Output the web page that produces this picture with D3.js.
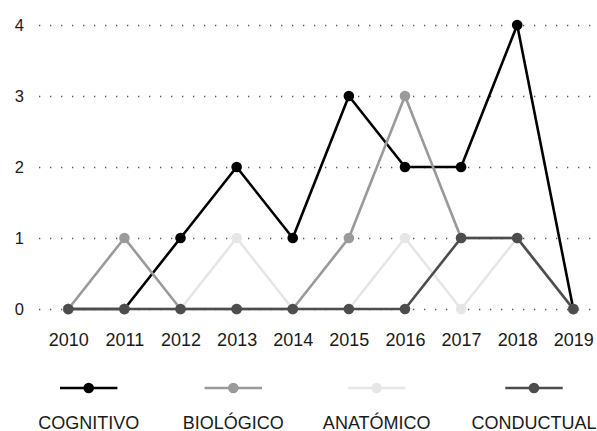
<!DOCTYPE html>
<html>
<head>
<meta charset="utf-8">
<script src="https://cdn.jsdelivr.net/npm/d3@7"></script>
<style>
  body { margin: 0; background: #fff; overflow: hidden; }
  text { font-family: "Liberation Sans", Arial, sans-serif; fill: #1a1a1a; }
  .domain { display: none; }
</style>
</head>
<body>
<div id="chart"></div>
<script>
// data
var years = [2010, 2011, 2012, 2013, 2014, 2015, 2016, 2017, 2018, 2019];
var cognitivo  = [0, 0, 1, 2, 1, 3, 2, 2, 4, 0];
var biologico  = [0, 1, 0, 0, 0, 1, 3, 1, 1, 0];
var anatomico  = [0, 0, 0, 1, 0, 0, 1, 0, 1, 0];
var conductual = [0, 0, 0, 0, 0, 0, 0, 1, 1, 0];
var seriesNames = ["COGNITIVO", "BIOLÓGICO", "ANATÓMICO", "CONDUCTUAL"];
var seriesColors = ["#000000", "#9a9a9a", "#e6e6e6", "#4d4d4d"];
var yTicks = [0, 1, 2, 3, 4];

var svgWidth = 597;
var svgHeight = 431;

var svg = d3.select("#chart")
  .append("svg")
  .attr("width", svgWidth)
  .attr("height", svgHeight)
  .style("display", "block");

var xScale = d3.scalePoint()
  .domain(years)
  .range([68.3, 573.3]);

var yScale = d3.scaleLinear()
  .domain([0, 4])
  .range([309, 25]);

// dotted gridlines + y labels
var yAxis = d3.axisLeft(yScale)
  .tickValues(yTicks)
  .tickFormat(d3.format("d"))
  .tickSize(-(svgWidth - 39))
  .tickPadding(15);

var yG = svg.append("g")
  .attr("transform", "translate(39,0)")
  .call(yAxis);
yG.selectAll(".tick line")
  .attr("stroke", "#555")
  .attr("stroke-width", 1.3)
  .attr("stroke-dasharray", "1.3,9.7");
yG.selectAll(".tick text")
  .attr("font-size", 16.5)
  .attr("fill", "#1a1a1a");

// x labels
var xAxis = d3.axisBottom(xScale)
  .tickSize(0)
  .tickPadding(24);
var xG = svg.append("g")
  .attr("transform", "translate(0,309)")
  .call(xAxis);
xG.selectAll(".tick text")
  .attr("font-size", 18)
  .attr("fill", "#1a1a1a");

var allSeries = [cognitivo, biologico, anatomico, conductual];

var line = d3.line()
  .x((d, i) => xScale(years[i]))
  .y(d => yScale(d));

allSeries.forEach(function(values, s) {
  var g = svg.append("g");
  g.append("path")
    .datum(values)
    .attr("d", line)
    .attr("fill", "none")
    .attr("stroke", seriesColors[s])
    .attr("stroke-width", 2.6)
    .attr("stroke-linejoin", "round");
  g.selectAll("circle")
    .data(values)
    .enter()
    .append("circle")
    .attr("cx", (d, i) => xScale(years[i]))
    .attr("cy", d => yScale(d))
    .attr("r", 5.3)
    .attr("fill", seriesColors[s]);
});

// legend
var legendX = d3.scaleOrdinal()
  .domain(seriesNames)
  .range([88.7, 233.3, 376.7, 534]);

var legend = svg.selectAll(".legend")
  .data(seriesNames)
  .enter()
  .append("g")
  .attr("class", "legend")
  .attr("transform", d => `translate(${legendX(d)}, 0)`);

legend.append("line")
  .attr("x1", -28.7)
  .attr("x2", 28.7)
  .attr("y1", 388)
  .attr("y2", 388)
  .attr("stroke", (d, i) => seriesColors[i])
  .attr("stroke-width", 2.6);

legend.append("circle")
  .attr("cx", 0)
  .attr("cy", 388)
  .attr("r", 5.3)
  .attr("fill", (d, i) => seriesColors[i]);

legend.append("text")
  .attr("x", 0)
  .attr("y", 428.5)
  .attr("text-anchor", "middle")
  .attr("font-size", 18)
  .text(d => d);
</script>
</body>
</html>
